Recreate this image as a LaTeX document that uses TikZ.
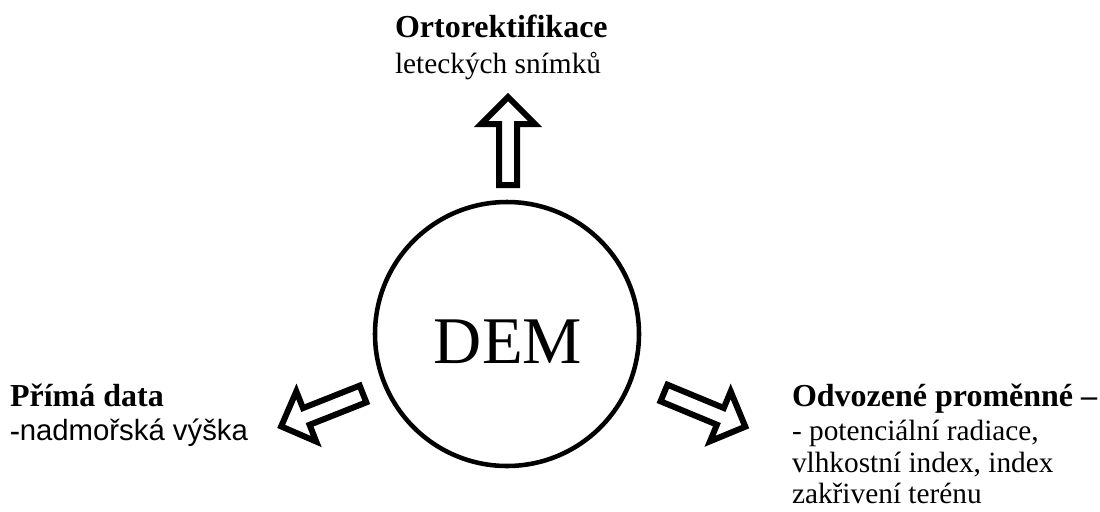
\documentclass[tikz,border=0pt]{standalone}
\usepackage{fontspec}
\setmainfont{Liberation Serif}
\newfontfamily\arialfont{Liberation Sans}
\begin{document}
\begin{tikzpicture}[x=0.75pt,y=-0.75pt,
  lbl/.style={anchor=base west,inner sep=0pt,outer sep=0pt},
  headfont/.style={font=\fontsize{24}{28}\selectfont\bfseries},
  bodyfont/.style={font=\fontsize{22}{26}\selectfont},
  blockarrow/.style={draw=black,line width=4.5pt,fill=white,miter limit=10}]
\useasboundingbox (0,0) rectangle (1100,511);
% central circle
\node[draw=black,line width=3.4pt,circle,minimum size=198pt,inner sep=0pt] (circ) at (507,334) {};
\node[anchor=base,inner sep=0pt,font=\fontsize{50}{56}\selectfont] (dem) at (508,363) {DEM};
% block arrows
\begin{scope}[shift={(508,185)},rotate=90]
  \draw[blockarrow] (0,-9) -- (61,-9) -- (61,-27) -- (88,0) -- (61,27) -- (61,9) -- (0,9) -- cycle;
\end{scope}
\begin{scope}[shift={(363,394)},rotate=201.6]
  \draw[blockarrow] (0,-9) -- (61,-9) -- (61,-27) -- (88,0) -- (61,27) -- (61,9) -- (0,9) -- cycle;
\end{scope}
\begin{scope}[shift={(664,393)},rotate=337.5]
  \draw[blockarrow] (0,-9) -- (61,-9) -- (61,-27) -- (88,0) -- (61,27) -- (61,9) -- (0,9) -- cycle;
\end{scope}
% top label
\node[lbl,headfont] (t1) at (395,37) {Ortorektifikace};
\node[lbl,bodyfont] (t2) at (395,73) {leteckých snímků};
% left label
\node[lbl,headfont] (l1) at (10,406) {Přímá data};
\node[lbl,bodyfont] (l2) at (10,440) {\textbf{-}{\arialfont nadmořská výška}};
% right label
\node[lbl,headfont] (r1) at (792,406) {Odvozené proměnné –};
\node[lbl,bodyfont] (r2) at (792,440) {- potenciální radiace,};
\node[lbl,bodyfont] (r3) at (792,472) {vlhkostní index, index};
\node[lbl,bodyfont] (r4) at (792,503) {zakřivení terénu};
\end{tikzpicture}
\end{document}
